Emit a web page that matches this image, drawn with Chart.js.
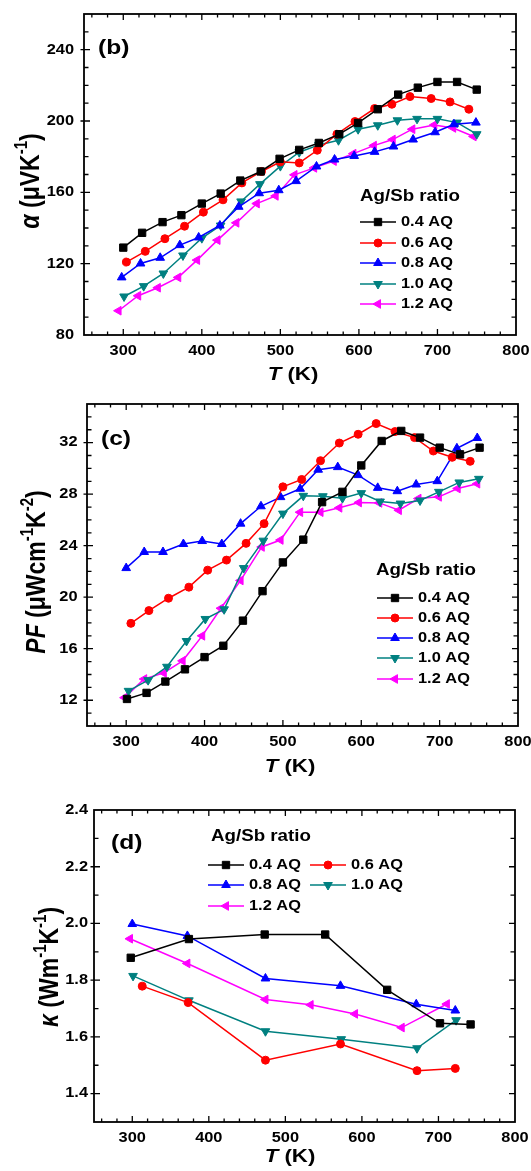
<!DOCTYPE html>
<html>
<head>
<meta charset="utf-8">
<script src="https://cdn.jsdelivr.net/npm/chart.js@4.4.1/dist/chart.umd.min.js"></script>
<style>
  html, body { margin: 0; padding: 0; background: #fff; }
  #wrap { position: relative; width: 531px; height: 1171px; }
  canvas { position: absolute; left: 0; }
</style>
</head>
<body>
<div id="wrap">
  <canvas id="seebeck" width="531" height="385" style="top:0"></canvas>
  <canvas id="power" width="531" height="395" style="top:385px"></canvas>
  <canvas id="kappa" width="531" height="391" style="top:780px"></canvas>
</div>
<script>
// sample names, in legend order
const sampleLabels = ['0.4 AQ', '0.6 AQ', '0.8 AQ', '1.0 AQ', '1.2 AQ'];

// (b) Seebeck coefficient, μV/K
const seebeckT04 = [300, 324, 350, 374, 400, 424, 449, 475, 499, 524, 549, 575, 599, 624, 650, 675, 700, 725, 750];
const seebeck04  = [129, 137.3, 143.3, 147.2, 153.7, 159.3, 166.6, 171.7, 178.8, 183.8, 187.7, 192.6, 198.9, 206.6, 214.8, 218.7, 221.9, 221.9, 217.6];
const seebeckT06 = [304, 328, 353, 378, 402, 427, 451, 476, 500, 524, 547, 572, 595, 620, 642, 665, 692, 716, 740];
const seebeck06  = [120.9, 126.9, 134, 141, 148.9, 155.8, 165.3, 171.7, 177.1, 176.5, 183.6, 192.6, 199.7, 207, 209.4, 213.7, 212.6, 210.7, 206.6];
const seebeckT08 = [298, 322, 347, 372, 396, 423, 447, 473, 498, 520, 546, 569, 594, 620, 644, 669, 697, 721, 749];
const seebeck08  = [112.3, 120.1, 123.3, 130.4, 134.7, 141.4, 151.9, 159.5, 161.2, 166.3, 174.5, 178.4, 180.4, 182.7, 185.7, 189.6, 193.7, 198.2, 199.1];
const seebeckT10 = [301, 326, 351, 376, 400, 424, 450, 474, 500, 524, 549, 574, 599, 624, 649, 674, 700, 725, 750];
const seebeck10  = [101.6, 107.4, 114.5, 124.6, 134.3, 141.4, 154.9, 164.6, 174.7, 182.5, 186.6, 189.2, 195.4, 197.6, 200.4, 201.2, 201.2, 199.1, 192.6];
const seebeckT12 = [294, 319, 344, 370, 394, 420, 444, 470, 494, 518, 543, 568, 593, 619, 643, 668, 696, 720, 746];
const seebeck12  = [93.6, 102, 106.5, 112.3, 122, 133.2, 142.9, 153.7, 158, 169.8, 173.7, 177.5, 181.7, 186.2, 189.6, 195.4, 197.8, 196.1, 191.3];

// (c) power factor, μW cm^-1 K^-2
const pfT04 = [301, 326, 350, 375, 400, 424, 449, 474, 500, 526, 550, 576, 600, 626, 651, 675, 700, 726, 751];
const pf04  = [12.1, 12.57, 13.45, 14.4, 15.35, 16.23, 18.18, 20.47, 22.7, 24.47, 27.38, 28.18, 30.23, 32.13, 32.91, 32.39, 31.61, 31.09, 31.61];
const pfT06 = [306, 329, 354, 380, 404, 428, 453, 476, 500, 524, 548, 572, 596, 619, 643, 668, 692, 716, 739];
const pf06  = [17.97, 18.96, 19.92, 20.78, 22.1, 22.88, 24.18, 25.71, 28.57, 29.14, 30.6, 31.97, 32.65, 33.48, 32.86, 32.39, 31.35, 30.86, 30.55];
const pfT08 = [300, 323, 347, 373, 397, 422, 446, 472, 497, 522, 545, 570, 596, 621, 646, 670, 697, 722, 748];
const pf08  = [22.26, 23.51, 23.51, 24.13, 24.36, 24.13, 25.71, 27.06, 27.77, 28.42, 29.9, 30.1, 29.48, 28.49, 28.23, 28.75, 29.01, 31.56, 32.36];
const pfT10 = [303, 328, 352, 377, 401, 425, 450, 475, 500, 526, 551, 576, 600, 624, 650, 675, 699, 725, 750];
const pf10  = [12.73, 13.56, 14.6, 16.6, 18.31, 19.06, 22.26, 24.39, 26.49, 27.87, 27.84, 27.69, 28.08, 27.43, 27.27, 27.51, 28.18, 28.91, 29.19];
const pfT12 = [298, 323, 348, 372, 397, 421, 446, 473, 497, 522, 548, 572, 597, 623, 648, 673, 699, 723, 748];
const pf12  = [12.2, 13.65, 14.12, 15.06, 17.0, 19.14, 21.3, 23.9, 24.44, 26.6, 26.6, 26.94, 27.35, 27.32, 26.75, 27.66, 27.79, 28.44, 28.81];

// (d) thermal conductivity, W m^-1 K^-1
const kappaT04 = [298, 374, 473, 552, 633, 702, 742];
const kappa04  = [1.879, 1.945, 1.961, 1.961, 1.766, 1.648, 1.644];
const kappaT06 = [313, 373, 474, 572, 672, 722];
const kappa06  = [1.779, 1.721, 1.518, 1.575, 1.481, 1.489];
const kappaT08 = [300, 372, 474, 572, 671, 722];
const kappa08  = [1.998, 1.956, 1.806, 1.78, 1.715, 1.693];
const kappaT10 = [301, 374, 474, 573, 672, 723];
const kappa10  = [1.815, 1.729, 1.62, 1.592, 1.56, 1.659];
const kappaT12 = [297, 372, 474, 533, 591, 652, 711];
const kappa12  = [1.946, 1.859, 1.732, 1.713, 1.681, 1.633, 1.716];

// axis ticks
const tempTicks    = [300, 400, 500, 600, 700, 800];
const seebeckTicks = [80, 120, 160, 200, 240];
const pfTicks      = [12, 16, 20, 24, 28, 32];
const kappaTicks   = [1.4, 1.6, 1.8, 2.0, 2.2, 2.4];

const FONT = '"Liberation Sans", Arial, Helvetica, sans-serif';
const WIDE = 1.17;   // text is set a little wider than the font's own proportions

// one look per sample, shared by all three panels
const looks = [
  { color: '#000000', pointStyle: 'rect',     radius: 5.2, rotation: 0 },
  { color: '#ff0000', pointStyle: 'circle',   radius: 4,   rotation: 0 },
  { color: '#0000ff', pointStyle: 'triangle', radius: 5,   rotation: 0 },
  { color: '#008080', pointStyle: 'triangle', radius: 5,   rotation: 180 },
  { color: '#ff00ff', pointStyle: 'triangle', radius: 5,   rotation: -90 }
];

function series(i, xs, ys) {
  const l = looks[i];
  return {
    label: sampleLabels[i],
    data: xs.map((t, k) => ({ x: t, y: ys[k] })),
    borderColor: l.color,
    backgroundColor: l.color,
    borderWidth: 1.5,
    pointStyle: l.pointStyle,
    pointRadius: l.radius,
    pointRotation: l.rotation,
    pointBorderWidth: 1,
    tension: 0
  };
}

function wideText(ctx, text, x, y, size, align) {
  ctx.save();
  ctx.translate(x, y);
  ctx.scale(WIDE, 1);
  ctx.font = 'bold ' + size + 'px ' + FONT;
  ctx.textAlign = align;
  ctx.textBaseline = 'middle';
  ctx.fillText(text, 0, 0);
  ctx.restore();
}

/* ---------- plugins ---------- */

// tick marks step through the scale, longer on the labelled ones
function eachTick(scale, minor, major, fn) {
  const start = Math.ceil(scale.min / minor - 1e-9);
  const end = Math.floor(scale.max / minor + 1e-9);
  for (let i = start; i <= end; i++) {
    const v = i * minor;
    if (Math.abs(v - scale.min) < 1e-9 || Math.abs(v - scale.max) < 1e-9) continue;
    const r = v / major;
    fn(scale.getPixelForValue(v), Math.abs(r - Math.round(r)) < 1e-6);
  }
}

const framePlugin = {
  id: 'frame',
  afterDraw(chart, _args, o) {
    const { ctx, chartArea: a, scales: { x, y } } = chart;
    ctx.save();
    ctx.strokeStyle = '#000';
    ctx.lineWidth = 1.3;
    ctx.beginPath();
    eachTick(x, o.xMinor, o.xMajor, (px, major) => {
      const len = major ? 6 : 3.5;
      ctx.moveTo(px, a.bottom); ctx.lineTo(px, a.bottom - len);
      ctx.moveTo(px, a.top);    ctx.lineTo(px, a.top + len);
    });
    eachTick(y, o.yMinor, o.yMajor, (py, major) => {
      const len = major ? 6 : 4.5;
      ctx.moveTo(a.left - (major ? 3.5 : 0), py); ctx.lineTo(a.left + len, py);
      ctx.moveTo(a.right, py); ctx.lineTo(a.right - len, py);
    });
    ctx.stroke();
    ctx.lineWidth = 1.8;
    ctx.strokeRect(a.left, a.top, a.right - a.left, a.bottom - a.top);

    // tick labels
    ctx.fillStyle = '#000';
    x.ticks.forEach(t => wideText(ctx, String(t.value), x.getPixelForValue(t.value), a.bottom + 16.5, 14, 'center'));
    y.ticks.forEach(t => wideText(ctx, o.yFormat(t.value), a.left - o.yPad, y.getPixelForValue(t.value), 14, 'right'));

    wideText(ctx, o.tag, o.tagAt[0], o.tagAt[1], 21, 'left');
    ctx.restore();
  }
};

// text made of runs: italic symbols and raised exponents
function drawRuns(ctx, runs, cx, cy, angle, size) {
  const supSize = Math.round(size * 0.64);
  const fontOf = r => (r.i ? 'italic ' : '') + 'bold ' + (r.sup ? supSize : size) + 'px ' + FONT;
  ctx.save();
  ctx.translate(cx, cy);
  ctx.rotate(angle);
  if (angle === 0) ctx.scale(WIDE, 1); else ctx.scale(1, WIDE);
  let w = 0;
  runs.forEach(r => { ctx.font = fontOf(r); w += ctx.measureText(r.t).width; });
  let x = -w / 2;
  ctx.fillStyle = '#000';
  ctx.textAlign = 'left';
  ctx.textBaseline = 'middle';
  runs.forEach(r => {
    ctx.font = fontOf(r);
    ctx.fillText(r.t, x, r.sup ? -size * 0.36 : 0);
    x += ctx.measureText(r.t).width;
  });
  ctx.restore();
}

const titlePlugin = {
  id: 'axisTitles',
  afterDraw(chart, _args, o) {
    drawRuns(chart.ctx, o.x, o.xAt[0], o.xAt[1], 0, 19);
    drawRuns(chart.ctx, o.y, o.yAt[0], o.yAt[1], -Math.PI / 2, 23);
  }
};

// legend inside the plot: title plus line-and-marker rows
const keyPlugin = {
  id: 'sampleKey',
  afterDraw(chart, _args, o) {
    const ctx = chart.ctx;
    ctx.save();
    ctx.fillStyle = '#000';
    wideText(ctx, 'Ag/Sb ratio', o.titleAt[0], o.titleAt[1], 16, 'left');
    chart.data.datasets.forEach((ds, i) => {
      const [x0, y] = o.rows[i];
      const x1 = x0 + 36;
      ctx.strokeStyle = ds.borderColor;
      ctx.lineWidth = 1.5;
      ctx.beginPath();
      ctx.moveTo(x0, y); ctx.lineTo(x1, y);
      ctx.stroke();
      ctx.fillStyle = ds.backgroundColor;
      ctx.lineWidth = 1;
      Chart.helpers.drawPoint(ctx, {
        pointStyle: ds.pointStyle, radius: ds.pointRadius,
        rotation: ds.pointRotation, borderWidth: 1
      }, (x0 + x1) / 2, y);
      ctx.fillStyle = '#000';
      wideText(ctx, ds.label, x1 + 5, y, 14, 'left');
    });
    ctx.restore();
  }
};

/* ---------- panels ---------- */

function makePanel(id, p) {
  const canvas = document.getElementById(id);
  return new Chart(canvas, {
    type: 'line',
    data: { datasets: p.datasets },
    options: {
      responsive: false,
      animation: false,
      devicePixelRatio: 1,
      layout: { padding: { left: 0, top: p.box.top, right: canvas.width - p.box.right, bottom: 0 } },
      plugins: {
        legend: { display: false },
        tooltip: { enabled: false },
        frame: p.frame,
        axisTitles: p.titles,
        sampleKey: p.key
      },
      scales: {
        x: {
          type: 'linear', min: 250, max: 800,
          grid: { display: false, drawTicks: false },
          border: { display: false },
          afterBuildTicks: s => { s.ticks = tempTicks.map(v => ({ value: v })); },
          afterFit: s => { s.height = canvas.height - p.box.bottom; },
          ticks: { display: false }
        },
        y: {
          type: 'linear', min: p.yMin, max: p.yMax,
          grid: { display: false, drawTicks: false },
          border: { display: false },
          afterBuildTicks: s => { s.ticks = p.yTicks.map(v => ({ value: v })); },
          afterFit: s => { s.width = p.box.left; },
          ticks: { display: false }
        }
      }
    },
    plugins: [framePlugin, titlePlugin, keyPlugin]
  });
}

const tempTitle = [{ t: 'T', i: true }, { t: ' (K)' }];

makePanel('seebeck', {
  datasets: [
    series(0, seebeckT04, seebeck04),
    series(1, seebeckT06, seebeck06),
    series(2, seebeckT08, seebeck08),
    series(3, seebeckT10, seebeck10),
    series(4, seebeckT12, seebeck12)
  ],
  box: { left: 84, top: 14, right: 516, bottom: 335 },
  yMin: 80, yMax: 260, yTicks: seebeckTicks,
  frame: { xMinor: 20, xMajor: 100, yMinor: 10, yMajor: 40, yPad: 10, yFormat: v => String(v),
           tag: '(b)', tagAt: [98, 48] },
  titles: {
    x: tempTitle, xAt: [293, 375],
    y: [{ t: 'α', i: true }, { t: ' (μVK' }, { t: '-1', sup: true }, { t: ')' }], yAt: [32, 181]
  },
  key: { titleAt: [360, 197], rows: [[360, 222], [360, 243], [360, 263], [360, 284], [360, 304]] }
});

makePanel('power', {
  datasets: [
    series(0, pfT04, pf04),
    series(1, pfT06, pf06),
    series(2, pfT08, pf08),
    series(3, pfT10, pf10),
    series(4, pfT12, pf12)
  ],
  box: { left: 87, top: 19, right: 518, bottom: 341 },
  yMin: 10, yMax: 35, yTicks: pfTicks,
  frame: { xMinor: 20, xMajor: 100, yMinor: 1, yMajor: 4, yPad: 9.5, yFormat: v => String(v),
           tag: '(c)', tagAt: [101, 54] },
  titles: {
    x: tempTitle, xAt: [290, 382],
    y: [{ t: 'PF', i: true }, { t: ' (μWcm' }, { t: '-1', sup: true }, { t: 'K' }, { t: '-2', sup: true }, { t: ')' }],
    yAt: [38, 187]
  },
  key: { titleAt: [376, 186], rows: [[377, 213], [377, 233], [377, 253], [377, 273], [377, 294]] }
});

makePanel('kappa', {
  datasets: [
    series(0, kappaT04, kappa04),
    series(1, kappaT06, kappa06),
    series(2, kappaT08, kappa08),
    series(3, kappaT10, kappa10),
    series(4, kappaT12, kappa12)
  ],
  box: { left: 94, top: 30, right: 515, bottom: 342 },
  yMin: 1.3, yMax: 2.4, yTicks: kappaTicks,
  frame: { xMinor: 20, xMajor: 100, yMinor: 0.1, yMajor: 0.2, yPad: 6, yFormat: v => v.toFixed(1),
           tag: '(d)', tagAt: [111, 63] },
  titles: {
    x: tempTitle, xAt: [290, 377],
    y: [{ t: 'κ', i: true }, { t: ' (Wm' }, { t: '-1', sup: true }, { t: 'K' }, { t: '-1', sup: true }, { t: ')' }],
    yAt: [51, 187]
  },
  key: { titleAt: [211, 57], rows: [[208, 85], [310, 85], [208, 105], [310, 105], [208, 126]] }
});
</script>
</body>
</html>
